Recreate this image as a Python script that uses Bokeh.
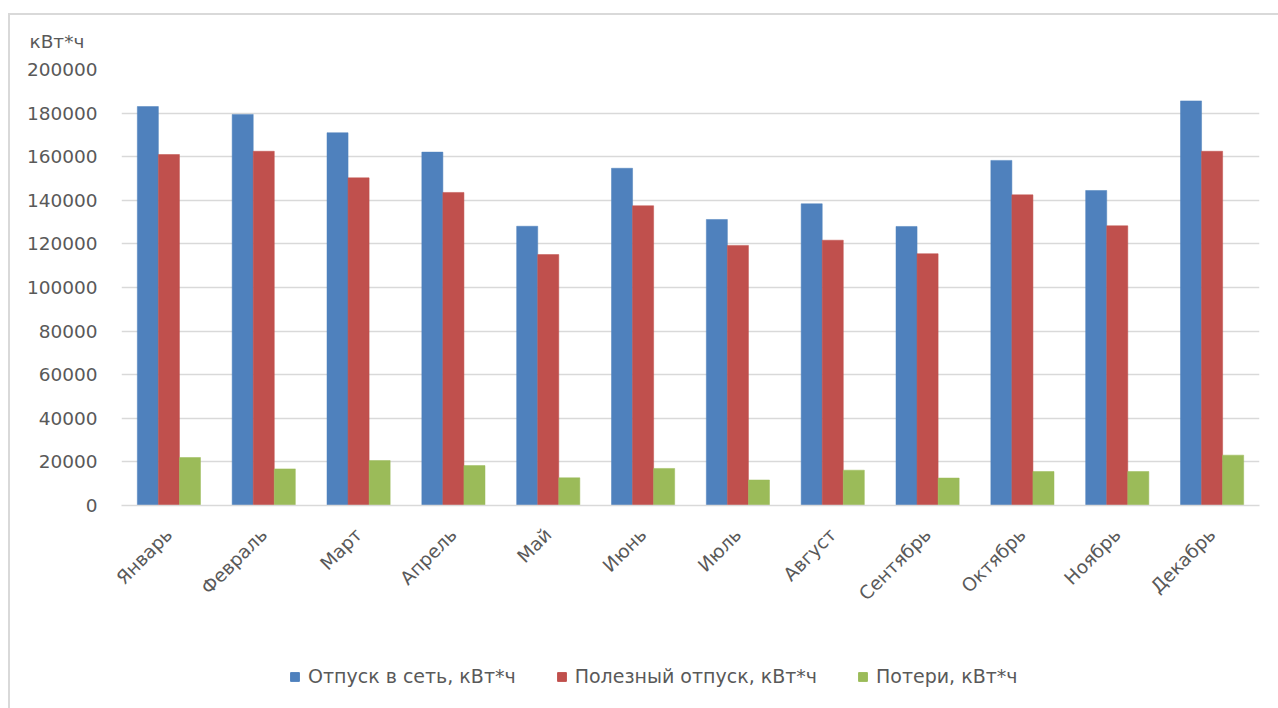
import math

from bokeh.embed import file_html
from bokeh.layouts import column
from bokeh.models import (ColumnDataSource, FixedTicker, Legend,
                          LegendItem, NumeralTickFormatter, Range1d)
from bokeh.plotting import figure
from bokeh.resources import INLINE
from bokeh.transform import dodge

# Monthly energy balance, kWh
months = ["Январь", "Февраль", "Март", "Апрель", "Май", "Июнь",
          "Июль", "Август", "Сентябрь", "Октябрь", "Ноябрь", "Декабрь"]
supply = [183000, 179400, 171000, 162100, 128100, 154700,
          131200, 138400, 128000, 158300, 144500, 185600]
useful = [161000, 162500, 150300, 143600, 115100, 137500,
          119300, 121700, 115500, 142500, 128300, 162500]
losses = [22000, 16800, 20600, 18300, 12700, 17000,
          11700, 16200, 12600, 15600, 15600, 23100]

series_names = ["Отпуск в сеть, кВт*ч", "Полезный отпуск, кВт*ч", "Потери, кВт*ч"]
columns = ["supply", "useful", "losses"]
colors = ["#4F81BD", "#C0504D", "#9BBB59"]
y_ticks = [0, 20000, 40000, 60000, 80000, 100000, 120000, 140000,
           160000, 180000, 200000]
unit_label = "кВт*ч"

FONT = "DejaVu Sans"
FONT_SIZE = "18.5px"
TEXT_COLOR = "#595959"
GRID_COLOR = "#D9D9D9"

source = ColumnDataSource(dict(month=months, supply=supply,
                               useful=useful, losses=losses))

# ---- main chart -------------------------------------------------------
p = figure(x_range=months, y_range=Range1d(0, 200000),
           width=1268, height=620,
           output_backend="svg", toolbar_location=None,
           min_border_left=111, min_border_right=19,
           min_border_top=54, min_border_bottom=130)
p.outline_line_color = None
p.background_fill_color = "white"
p.border_fill_color = "white"

# unit caption, top-left above the value axis
p.title.text = unit_label
p.title.align = "left"
p.title.vertical_align = "top"
p.title.offset = -92
p.title.standoff = 31
p.title.text_font = FONT
p.title.text_font_size = FONT_SIZE
p.title.text_font_style = "normal"
p.title.text_color = TEXT_COLOR

bw = 0.222
for col, off, color in zip(columns, [-bw, 0, bw], colors):
    p.vbar(x=dodge("month", off, range=p.x_range), top=col, width=bw,
           source=source, fill_color=color, line_color=color, line_width=0.5)

p.yaxis.ticker = FixedTicker(ticks=y_ticks)
p.yaxis.formatter = NumeralTickFormatter(format="0")
p.yaxis.axis_line_color = None
p.yaxis.major_tick_line_color = None
p.yaxis.minor_tick_line_color = None
p.yaxis.major_label_standoff = 18
p.yaxis.major_label_text_font = FONT
p.yaxis.major_label_text_font_size = FONT_SIZE
p.yaxis.major_label_text_color = TEXT_COLOR

p.xaxis.axis_line_color = GRID_COLOR
p.xaxis.axis_line_width = 1.5
p.xaxis.major_tick_line_color = None
p.xaxis.minor_tick_line_color = None
p.xaxis.major_label_orientation = math.pi / 4
p.xaxis.major_label_standoff = 20
p.xaxis.major_label_text_font = FONT
p.xaxis.major_label_text_font_size = FONT_SIZE
p.xaxis.major_label_text_color = TEXT_COLOR

p.xgrid.grid_line_color = None
p.ygrid.grid_line_color = GRID_COLOR
p.ygrid.grid_line_width = 1.5

# ---- legend strip -----------------------------------------------------
# The strip's value range starts far above the data, so its bars fall below
# the strip and only serve as legend keys.
q = figure(x_range=months, y_range=Range1d(1e6, 2e6), width=1268, height=73,
           output_backend="svg", toolbar_location=None, min_border=0)
q.axis.visible = False
q.grid.visible = False
q.outline_line_color = None
q.border_fill_color = "white"
q.background_fill_color = "white"

keys = [q.vbar(x="month", top=col, width=bw, source=source,
               fill_color=c, line_color=c)
        for col, c in zip(columns, colors)]
legend = Legend(items=[LegendItem(label=n, renderers=[r])
                       for n, r in zip(series_names, keys)],
                orientation="horizontal", location=(168, 21),
                glyph_width=11, glyph_height=11, label_standoff=8,
                spacing=40, padding=0, margin=0,
                border_line_color=None, background_fill_alpha=0,
                label_text_font=FONT, label_text_font_size="19px",
                label_text_color=TEXT_COLOR, label_height=20)
q.add_layout(legend, "center")

page = column(p, q, spacing=0)
page.margin = (13, 0, 0, 8)
page.styles = {"border-left": "2px solid #D9D9D9", "border-top": "2px solid #D9D9D9"}

open("out.html", "w").write(file_html(page, INLINE))
